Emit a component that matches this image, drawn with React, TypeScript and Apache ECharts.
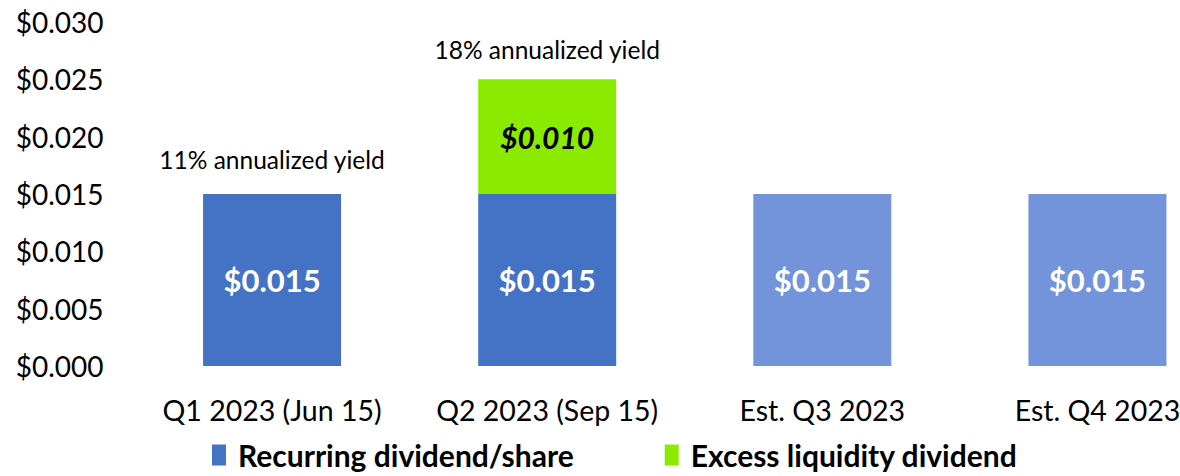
import React, { useEffect, useRef } from "react";
import * as echarts from "echarts";

const categories = ["Q1 2023 (Jun 15)", "Q2 2023 (Sep 15)", "Est. Q3 2023", "Est. Q4 2023"];
const recurring = [0.015, 0.015, 0.015, 0.015];
const excess = [0, 0.01, 0, 0];
const yieldNotes = ["11% annualized yield", "18% annualized yield", "", ""];
const estimated = [false, false, true, true];
const yTicks = { min: 0, max: 0.03, interval: 0.005 };

const FONT = "Lato";
const BLUE = "#4472C4";
const BLUE_LIGHT = "#7393DA";
const GREEN = "#8AEB00";
const NOTE_DIST = [22, 17, 20, 20];

export default function App() {
  const ref = useRef<HTMLDivElement>(null);
  useEffect(() => {
    if (!ref.current) return;
    const chart = echarts.init(ref.current, null, { renderer: "svg" });
    chart.setOption({
      animation: false,
      textStyle: { fontFamily: FONT },
      grid: { left: 134.5, right: 0, top: 22, bottom: 110, containLabel: false },
      legend: {
        data: ["Recurring dividend/share", "Excess liquidity dividend"],
        left: 212,
        top: 440,
        padding: 0,
        itemWidth: 14,
        itemHeight: 21,
        itemGap: 91,
        icon: "rect",
        textStyle: {
          fontFamily: FONT,
          fontSize: 30,
          lineHeight: 30,
          fontWeight: "bold",
          color: "#000",
          padding: [0, 0, 0, 7],
        },
      },
      xAxis: {
        type: "category",
        data: categories,
        axisLine: { show: false },
        axisTick: { show: false },
        axisLabel: { interval: 0, fontFamily: FONT, fontSize: 28.5, color: "#000", margin: 29 },
      },
      yAxis: {
        type: "value",
        min: yTicks.min,
        max: yTicks.max,
        interval: yTicks.interval,
        splitLine: { show: false },
        axisLine: { show: false },
        axisTick: { show: false },
        axisLabel: {
          fontFamily: FONT,
          fontSize: 28,
          color: "#000",
          margin: 31,
          formatter: (v: number) => "$" + v.toFixed(3),
        },
      },
      series: [
        {
          name: "Recurring dividend/share",
          type: "bar",
          stack: "total",
          barWidth: 138,
          itemStyle: { color: BLUE },
          data: recurring.map((v, i) => ({
            value: v,
            itemStyle: { color: estimated[i] ? BLUE_LIGHT : BLUE },
          })),
          label: {
            show: true,
            position: "inside",
            fontFamily: FONT,
            fontSize: 31,
            fontWeight: "bold",
            color: "#fff",
            formatter: (p: any) => "$" + Number(p.value).toFixed(3),
          },
        },
        {
          name: "Excess liquidity dividend",
          type: "bar",
          stack: "total",
          barWidth: 138,
          itemStyle: { color: GREEN },
          data: excess,
          label: {
            show: true,
            position: "inside",
            fontFamily: FONT,
            fontSize: 30,
            fontWeight: "bold",
            fontStyle: "italic",
            color: "#000",
            formatter: (p: any) => (p.value ? "$" + Number(p.value).toFixed(3) : ""),
          },
        },
        {
          name: "notes",
          type: "bar",
          stack: "total",
          barWidth: 138,
          data: yieldNotes.map((_, i) => ({ value: 0, label: { distance: NOTE_DIST[i] } })),
          itemStyle: { color: "transparent" },
          label: {
            show: true,
            position: "top",
            fontFamily: FONT,
            fontSize: 24.5,
            color: "#000",
            formatter: (p: any) => yieldNotes[p.dataIndex],
          },
        },
      ],
    });
    return () => chart.dispose();
  }, []);
  return (
    <div style={{ position: "absolute", left: 0, top: 0, width: 1180, height: 476, overflow: "hidden", background: "#fff" }}>
      <div ref={ref} style={{ width: 1235, height: 476 }} />
    </div>
  );
}
